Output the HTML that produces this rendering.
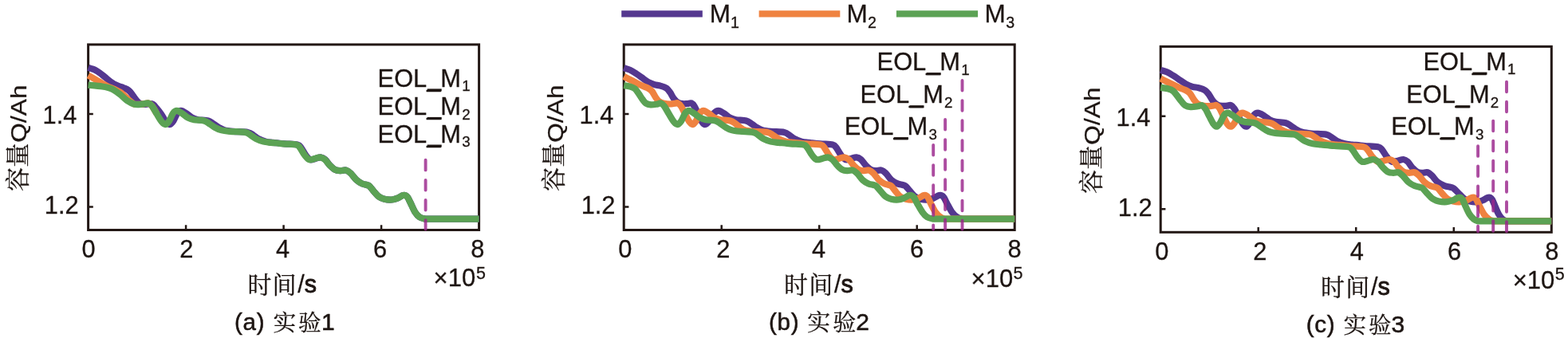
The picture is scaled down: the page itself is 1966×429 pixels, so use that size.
<!DOCTYPE html>
<html lang="zh">
<head>
<meta charset="utf-8">
<title>容量Q/Ah - 时间/s</title>
<style>
html,body{margin:0;padding:0;background:#fff;}
body{width:1966px;height:429px;overflow:hidden;font-family:"Liberation Sans",sans-serif;}
svg{display:block;will-change:transform;}
svg text{font-family:"Liberation Sans",sans-serif;fill:#1d1512;stroke:#1d1512;stroke-width:0.3px;}
svg text.cjk{font-family:"Liberation Serif","Noto Serif CJK SC",serif;}
</style>
</head>
<body>
<svg width="1966" height="429" viewBox="0 0 1966 429">
<rect width="1966" height="429" fill="#fff"/>
<g class="legend">
<line x1="779.2" y1="17.3" x2="880.8" y2="17.3" stroke="#54378f" stroke-width="8.2"/>
<line x1="951.6" y1="17.3" x2="1053.3" y2="17.3" stroke="#ef8240" stroke-width="8.2"/>
<line x1="1123.9" y1="17.3" x2="1226.1" y2="17.3" stroke="#5ba254" stroke-width="8.2"/>
<text x="889.8" y="27.6" font-size="31.5">M</text>
<text x="916" y="34.5" font-size="19.6">1</text>
<text x="1061.6" y="27.6" font-size="31.5">M</text>
<text x="1088" y="34.5" font-size="19.6">2</text>
<text x="1234.6" y="27.6" font-size="31.5">M</text>
<text x="1261.2" y="34.5" font-size="19.6">3</text>
</g>
<g class="panel">
<title>(a) 实验1</title>
<rect x="110.6" y="55.9" width="490" height="232.6" fill="none" stroke="#231815" stroke-width="3"/>
<path d="M233.1,288.5V282.2M355.6,288.5V282.2M478.1,288.5V282.2M110.6,259.4H116.8M110.6,143.1H116.8" stroke="#231815" stroke-width="2.5" fill="none"/>
<g fill="none" stroke-width="8.2" stroke-linejoin="round">
<path d="M110.6,84.8C111.4,85.1 114,85.8 115.6,86.4C117.2,87 118.7,87.5 120.2,88.3C121.7,89.1 123.2,90.1 124.7,91.2C126.2,92.3 127.7,93.5 129.2,94.7C130.7,95.9 132.3,97.2 133.8,98.5C135.3,99.8 136.8,101.2 138.3,102.3C139.8,103.4 141.1,104.3 142.9,105.3C144.7,106.2 146.9,107.2 148.9,108C150.9,108.8 153.2,109.5 155,110.2C156.8,110.9 158.1,111.3 159.5,112.1C160.9,112.9 162,113.8 163.3,115.2C164.6,116.6 165.7,118.6 167.1,120.5C168.5,122.4 170.2,124.9 171.7,126.5C173.2,128.1 174.4,129.2 176,130C177.6,130.8 179.2,131 181,131C182.8,131 185.2,130.2 187,130.2C188.8,130.2 190.4,130 192,131C193.6,132 194.8,134 196.5,136C198.2,138 199.9,140.1 201.9,142.9C203.9,145.8 206.5,150.9 208.4,153.1C210.3,155.3 211.6,156.3 213.1,156C214.7,155.7 216.2,153.5 217.7,151.2C219.2,148.8 220.9,143.9 222.4,141.9C223.9,139.9 225.1,138.9 227,138.9C228.9,138.9 231.3,140.7 233.6,142.2C235.9,143.7 238.5,146.4 241,147.7C243.5,149 245.2,149.6 248.5,150.2C251.8,150.8 257.8,150.6 261,151.5C264.2,152.4 265.5,154.1 267.8,155.5C270,156.9 272.3,158.8 274.6,160.1C276.8,161.4 278.3,162.3 281.3,163.1C284.3,163.9 287.7,164.3 292.6,164.8C297.5,165.3 306.5,165.1 310.6,165.9C314.8,166.7 315.2,168 317.4,169.4C319.7,170.8 321.6,172.7 324.2,174.1C326.9,175.5 330.2,176.8 333.3,177.6C336.3,178.4 338.4,178.4 342.4,178.8C346.4,179.2 352,179.9 357.1,180.3C362.1,180.8 369.5,180.7 372.9,181.5C376.3,182.3 375.7,182.9 377.4,185C379.1,187.1 381.2,191.8 383.1,194.3C385,196.8 386.6,199.3 388.7,200.1C390.8,200.9 393.2,199.5 395.5,199C397.7,198.5 400.2,197.1 402.2,197.3C404.3,197.5 406,198.5 407.8,200.1C409.7,201.7 411.4,205 413.4,207.1C415.5,209.2 417.9,211.7 420.2,212.9C422.5,214.1 424.9,214 427.2,214.1C429.5,214.2 432.1,213 434.2,213.6C436.3,214.2 437.9,215.6 440,217.6C442.1,219.6 444.7,223.7 447,225.8C449.3,227.9 451.9,229.4 454,230.4C456.1,231.4 458.3,231.5 459.9,232C461.4,232.5 461.8,232.1 463.3,233.5C464.8,234.9 467.2,238.3 469.1,240.5C471.1,242.7 472.9,245.1 475,246.7C477.1,248.2 479.3,249.2 482,249.8C484.7,250.4 488.6,250.7 491.3,250.5C494,250.3 496.4,249.3 498.3,248.6C500.2,247.9 501.3,246.9 502.5,246.3C503.7,245.7 504.5,245.3 505.5,245.1C506.5,244.9 507.6,244.8 508.5,245.2C509.4,245.6 510.1,246 511.2,247.6C512.2,249.2 513.3,251.5 514.8,254.6C516.3,257.7 518.5,263.1 520.4,266.1C522.3,269.1 524.1,271 526.2,272.4C528.3,273.8 532,274.3 533.2,274.7L600.6,274.7" stroke="#54378f"/>
<path d="M110.6,94.5C112.2,95.4 117.3,98.3 120.2,100C123.1,101.7 125.2,103.1 127.7,104.5C130.2,105.9 132.8,107.4 135.3,108.6C137.8,109.8 140.4,110.4 142.9,111.6C145.4,112.8 148.2,114 150.5,115.5C152.8,117 154.8,118.9 156.5,120.5C158.2,122.1 159.4,123.6 161,125C162.6,126.4 164.7,128.1 166,129C167.3,129.9 166.6,130.4 168.6,130.7C170.6,131 175.1,130.9 178,130.7C180.9,130.5 184.1,128.9 186.3,129.4C188.5,129.9 189.3,131.2 191,133.5C192.7,135.8 195.7,141.3 196.6,142.9" stroke="#ef8240"/>
<path d="M110.6,106.6C113.5,106.9 123.4,107.7 128.3,108.5C133.2,109.3 136.4,109.9 140,111.5C143.6,113.1 146.8,115.6 150,118C153.2,120.4 156.2,124 159.3,126.1C162.4,128.2 165.5,129.9 168.6,130.7C171.7,131.5 175.1,130.9 178,130.7C180.9,130.5 184.1,128.9 186.3,129.4C188.5,129.9 189.3,131.2 191,133.5C192.7,135.8 194.6,139.6 196.6,142.9C198.6,146.2 201.2,150.9 203.1,153.1C205,155.3 206.2,156.3 207.8,156C209.4,155.7 210.9,153.5 212.4,151.2C213.9,148.8 215.6,143.9 217.1,141.9C218.6,139.9 219.8,138.9 221.7,138.9C223.6,138.9 226,140.7 228.3,142.2C230.6,143.7 233.2,146.4 235.7,147.7C238.2,149 239.8,149.6 243.2,150.2C246.6,150.8 252.7,150.6 256,151.5C259.3,152.4 260.7,154.1 263,155.5C265.3,156.9 267.7,158.8 270,160.1C272.3,161.4 273.9,162.3 277,163.1C280.1,163.9 283.6,164.3 288.6,164.8C293.6,165.3 302.9,165.1 307.2,165.9C311.5,166.7 311.9,168 314.2,169.4C316.5,170.8 318.5,172.7 321.2,174.1C323.9,175.5 327.4,176.8 330.5,177.6C333.6,178.4 335.8,178.4 339.9,178.8C344,179.2 349.8,179.9 355,180.3C360.2,180.8 367.8,180.7 371.3,181.5C374.8,182.3 374.1,182.9 375.9,185C377.6,187.1 379.9,191.8 381.8,194.3C383.8,196.8 385.5,199.3 387.6,200.1C389.7,200.9 392.3,199.5 394.6,199C396.9,198.5 399.5,197.1 401.6,197.3C403.7,197.5 405.5,198.5 407.4,200.1C409.3,201.7 411.1,205 413.2,207.1C415.3,209.2 417.9,211.7 420.2,212.9C422.5,214.1 424.9,214 427.2,214.1C429.5,214.2 432.1,213 434.2,213.6C436.3,214.2 437.9,215.6 440,217.6C442.1,219.6 444.7,223.7 447,225.8C449.3,227.9 451.9,229.4 454,230.4C456.1,231.4 458.3,231.5 459.9,232C461.4,232.5 461.8,232.1 463.3,233.5C464.8,234.9 467.2,238.3 469.1,240.5C471.1,242.7 472.9,245.1 475,246.7C477.1,248.2 479.3,249.2 482,249.8C484.7,250.4 488.6,250.7 491.3,250.5C494,250.3 496.4,249.3 498.3,248.6C500.2,247.9 501.3,246.9 502.5,246.3C503.7,245.7 504.5,245.3 505.5,245.1C506.5,244.9 507.6,244.8 508.5,245.2C509.4,245.6 510.1,246 511.2,247.6C512.2,249.2 513.3,251.5 514.8,254.6C516.3,257.7 518.5,263.1 520.4,266.1C522.3,269.1 524.1,271 526.2,272.4C528.3,273.8 532,274.3 533.2,274.7L600.6,274.7" stroke="#5ba254"/>
</g>
<line x1="533.6" y1="200.8" x2="533.6" y2="287.5" stroke="#9a258c" stroke-width="3.9" stroke-dasharray="12.6 12.5" stroke-linecap="round" opacity="0.82"/>
<text x="473.6" y="108.6" font-size="30.8">EOL_M</text>
<rect x="535.7" y="111.4" width="18" height="3.1" fill="#1d1512"/>
<text x="579.2" y="114" font-size="18.8">1</text>
<text x="473.6" y="144.1" font-size="30.8">EOL_M</text>
<rect x="535.7" y="146.9" width="18" height="3.1" fill="#1d1512"/>
<text x="579.2" y="149.5" font-size="18.8">2</text>
<text x="473.6" y="178.7" font-size="30.8">EOL_M</text>
<rect x="535.7" y="181.5" width="18" height="3.1" fill="#1d1512"/>
<text x="579.2" y="184.1" font-size="18.8">3</text>
<text x="53.6" y="154.6" font-size="30.8">1.4</text>
<text x="55.8" y="267.8" font-size="30.8">1.2</text>
<text x="111" y="323" font-size="30.8" text-anchor="middle">0</text>
<text x="233.7" y="323" font-size="30.8" text-anchor="middle">2</text>
<text x="354.5" y="323" font-size="30.8" text-anchor="middle">4</text>
<text x="476.5" y="323" font-size="30.8" text-anchor="middle">6</text>
<text x="598.7" y="323" font-size="30.8" text-anchor="middle">8</text>
<text x="543.6" y="359.3" font-size="31">×10</text>
<text x="597" y="349.5" font-size="21.5">5</text>
<text class="cjk" transform="translate(32.9 239.9) rotate(-90)" font-size="30.2">容量</text>
<text transform="translate(33.3 178.7) rotate(-90) scale(1 0.9)" font-size="31.7">Q/Ah</text>
<text class="cjk" x="310.4" y="367.7" font-size="30" letter-spacing="1.2">时间</text>
<text x="373.3" y="367" font-size="30.5" style="stroke-width:0.3px">/<tspan style="stroke-width:0.9px">s</tspan></text>
<text x="294.1" y="413.7" font-size="29.5" letter-spacing="0.7" style="stroke-width:0.55px">(a)</text>
<text class="cjk" x="342.6" y="414.5" font-size="28.7" letter-spacing="2.8">实验</text>
<text x="403" y="413.7" font-size="30" style="stroke-width:0.55px">1</text>
</g>
<g class="panel">
<title>(b) 实验2</title>
<rect x="782.2" y="55.9" width="490" height="232.6" fill="none" stroke="#231815" stroke-width="3"/>
<path d="M904.7,288.5V282.2M1027.2,288.5V282.2M1149.7,288.5V282.2M782.2,259.4H788.4M782.2,143.1H788.4" stroke="#231815" stroke-width="2.5" fill="none"/>
<g fill="none" stroke-width="8.2" stroke-linejoin="round">
<path d="M782.2,85.2C783.5,85.7 787.6,86.7 790.2,87.9C792.8,89.1 795.2,90.8 797.7,92.4C800.2,94 802.8,95.9 805.3,97.7C807.8,99.5 810.4,101.6 812.9,103C815.4,104.4 818,105.3 820.5,106.1C823,106.9 825.5,106.8 828,107.6C830.5,108.3 833.6,109.2 835.6,110.6C837.6,112 838.7,113.8 840.2,115.9C841.7,118.1 843.1,121.4 844.7,123.5C846.3,125.6 848.1,127.5 850,128.6C851.9,129.7 854,130 856,130.2C858,130.4 860.2,130.1 862,130C863.8,129.9 865.4,128.8 866.9,129.4C868.4,130 869.3,131.2 870.7,133.5C872.1,135.8 873.6,139.6 875.2,142.9C876.8,146.2 878.9,150.9 880.4,153.1C881.9,155.3 882.7,156.3 884.2,156C885.8,155.7 887.9,153.5 889.7,151.2C891.6,148.8 893.5,143.9 895.3,141.9C897.2,139.9 898.7,138.9 900.8,138.9C902.9,138.9 905.4,140.7 907.8,142.2C910.2,143.7 912.8,146.4 915.3,147.7C917.8,149 919.4,149.6 922.8,150.2C926.2,150.8 932.3,150.6 935.6,151.5C938.9,152.4 940.3,154.1 942.6,155.5C944.9,156.9 947.1,158.8 949.2,160.1C951.4,161.4 952.8,162.3 955.6,163.1C958.5,163.9 961.6,164.3 966.2,164.8C970.8,165.3 979.3,165.1 983.2,165.9C987.1,166.7 987.5,168 989.6,169.4C991.8,170.8 993.7,172.7 996.2,174.1C998.8,175.5 1002.1,176.8 1005.1,177.6C1008,178.4 1010.1,178.4 1014,178.8C1017.9,179.2 1023.4,179.9 1028.4,180.3C1033.4,180.8 1040.6,180.7 1043.9,181.5C1047.3,182.3 1046.7,182.9 1048.4,185C1050.2,187.1 1052.4,191.8 1054.3,194.3C1056.2,196.8 1057.9,199.3 1060,200.1C1062.1,200.9 1064.6,199.5 1066.9,199C1069.2,198.5 1071.7,197.1 1073.8,197.3C1076,197.5 1077.7,198.5 1079.6,200.1C1081.5,201.7 1083.2,205 1085.3,207.1C1087.4,209.2 1089.8,211.7 1092,212.9C1094.2,214.1 1096.4,214 1098.7,214.1C1100.9,214.2 1103.3,213 1105.3,213.6C1107.4,214.2 1108.8,215.6 1110.9,217.6C1112.9,219.6 1115.3,223.7 1117.7,225.8C1120.1,227.9 1123,229.4 1125.4,230.4C1127.7,231.4 1130.1,231.5 1131.8,232C1133.5,232.5 1133.9,232.1 1135.5,233.5C1137.2,234.9 1139.7,238.3 1141.7,240.5C1143.7,242.7 1145.4,245.1 1147.5,246.7C1149.6,248.2 1151.7,249.2 1154.4,249.8C1157.1,250.4 1160.9,250.7 1163.6,250.5C1166.3,250.3 1168.6,249.3 1170.5,248.6C1172.3,247.9 1173.4,246.9 1174.6,246.3C1175.8,245.7 1176.6,245.3 1177.6,245.1C1178.6,244.9 1179.7,244.8 1180.7,245.2C1181.6,245.6 1182.4,246 1183.4,247.6C1184.5,249.2 1185.4,251.5 1187.1,254.6C1188.8,257.7 1191.4,263.1 1193.6,266.1C1195.8,269.1 1198.1,271 1200.2,272.4C1202.4,273.8 1205.5,274.3 1206.5,274.7L1272.2,274.7" stroke="#54378f"/>
<path d="M782.2,95.8C783.5,96.5 787.6,98.7 790.2,100C792.8,101.3 795.2,102.5 797.7,103.8C800.2,105.1 802.8,106.4 805.3,107.6C807.8,108.8 810.9,109.7 812.9,110.8C814.9,111.9 815.9,112.5 817.4,114.4C818.9,116.3 820.5,119.8 822,122C823.5,124.2 824.7,126 826.5,127.3C828.3,128.6 830.4,129.2 832.6,129.7C834.9,130.2 837.8,130.5 840,130.5C842.2,130.5 844.4,130 846,129.8C847.6,129.6 848.6,128.8 849.9,129.4C851.2,130 852.5,131.2 854.1,133.5C855.6,135.8 857.2,139.6 859,142.9C860.7,146.2 863,150.9 864.6,153.1C866.3,155.3 867.4,156.3 868.8,156C870.1,155.7 871.5,153.5 873,151.2C874.4,148.8 876.1,143.9 877.6,141.9C879.1,139.9 880.3,138.9 882.1,138.9C883.9,138.9 886.3,140.7 888.6,142.2C890.9,143.7 893.4,146.4 895.8,147.7C898.3,149 899.9,149.6 903.2,150.2C906.5,150.8 912.5,150.6 915.8,151.5C919,152.4 920.5,154.1 922.6,155.5C924.8,156.9 926.6,158.8 928.5,160.1C930.4,161.4 931.1,162.3 933.8,163.1C936.4,163.9 939.9,164.3 944.7,164.8C949.5,165.3 958.3,165.1 962.4,165.9C966.5,166.7 966.8,168 969.1,169.4C971.4,170.8 973.4,172.7 976.1,174.1C978.9,175.5 982.5,176.8 985.6,177.6C988.8,178.4 991,178.4 995.3,178.8C999.5,179.2 1005.4,179.9 1011,180.3C1016.6,180.8 1025.1,180.7 1028.9,181.5C1032.6,182.3 1031.7,182.9 1033.4,185C1035.2,187.1 1037.3,191.8 1039.2,194.3C1041.1,196.8 1042.8,199.3 1044.9,200.1C1047,200.9 1049.5,199.5 1051.8,199C1054.1,198.5 1056.6,197.1 1058.7,197.3C1060.8,197.5 1062.5,198.5 1064.4,200.1C1066.3,201.7 1068.1,205 1070.1,207.1C1072.2,209.2 1074.5,211.7 1076.7,212.9C1078.9,214.1 1081.1,214 1083.3,214.1C1085.5,214.2 1087.9,213 1089.9,213.6C1092,214.2 1093.4,215.6 1095.4,217.6C1097.4,219.6 1099.8,223.7 1102,225.8C1104.3,227.9 1106.7,229.4 1108.8,230.4C1110.8,231.4 1112.9,231.5 1114.4,232C1115.9,232.5 1116.2,232.1 1117.7,233.5C1119.2,234.9 1121.4,238.3 1123.3,240.5C1125.1,242.7 1126.9,245.1 1129,246.7C1131.1,248.2 1133.1,249.2 1135.8,249.8C1138.4,250.4 1142.2,250.7 1144.8,250.5C1147.4,250.3 1149.8,249.3 1151.6,248.6C1153.4,247.9 1154.5,246.9 1155.7,246.3C1156.8,245.7 1157.6,245.3 1158.5,245.1C1159.4,244.9 1160.3,244.8 1161.1,245.2C1162,245.6 1162.6,246 1163.5,247.6C1164.4,249.2 1165.2,251.5 1166.7,254.6C1168.3,257.7 1170.8,263.1 1172.9,266.1C1175,269.1 1177.3,271 1179.3,272.4C1181.3,273.8 1183.9,274.3 1184.9,274.7L1272.2,274.7" stroke="#ef8240"/>
<path d="M782.2,107.1C783.5,107.3 787.9,107.9 790.2,108.6C792.5,109.3 794.4,109.9 796.2,111.4C798,112.9 799.3,115.3 800.8,117.4C802.3,119.5 803.8,122.2 805.3,124.2C806.8,126.2 808,128.3 809.8,129.5C811.6,130.7 813.5,131.2 815.9,131.4C818.3,131.6 821.9,130.9 824,130.6C826.1,130.3 826.9,128.9 828.4,129.4C829.9,129.9 831.4,131.2 833.1,133.5C834.8,135.8 836.7,139.6 838.7,142.9C840.7,146.2 843.3,150.9 845.2,153.1C847.1,155.3 848.4,156.3 849.9,156C851.5,155.7 853,153.5 854.5,151.2C856,148.8 857.7,143.9 859.2,141.9C860.8,139.9 861.9,138.9 863.8,138.9C865.7,138.9 868.1,140.7 870.4,142.2C872.7,143.7 875.4,146.4 877.8,147.7C880.2,149 881.7,149.6 885,150.2C888.2,150.8 894,150.6 897.2,151.5C900.3,152.4 901.6,154.1 903.9,155.5C906.1,156.9 908.3,158.8 910.6,160.1C912.8,161.4 914.3,162.3 917.2,163.1C920,163.9 923.1,164.3 927.6,164.8C932.1,165.3 940.5,165.1 944.3,165.9C948.2,166.7 948.5,168 950.6,169.4C952.8,170.8 954.6,172.7 957.3,174.1C960,175.5 963.5,176.8 966.6,177.6C969.8,178.4 972,178.4 976,178.8C980.1,179.2 985.9,179.9 991.2,180.3C996.4,180.8 1004,180.7 1007.5,181.5C1011,182.3 1010.4,182.9 1012.1,185C1013.9,187.1 1016.1,191.8 1018,194.3C1020,196.8 1021.7,199.3 1023.8,200.1C1026,200.9 1028.5,199.5 1030.9,199C1033.2,198.5 1035.7,197.1 1037.9,197.3C1040,197.5 1041.7,198.5 1043.7,200.1C1045.6,201.7 1047.4,205 1049.5,207.1C1051.6,209.2 1053.9,211.7 1056.1,212.9C1058.4,214.1 1060.6,214 1062.8,214.1C1065,214.2 1067.4,213 1069.4,213.6C1071.4,214.2 1072.9,215.6 1074.9,217.6C1076.9,219.6 1079.3,223.7 1081.7,225.8C1084,227.9 1086.7,229.4 1089,230.4C1091.3,231.4 1093.6,231.5 1095.2,232C1096.8,232.5 1097.1,232.1 1098.7,233.5C1100.4,234.9 1102.8,238.3 1104.8,240.5C1106.8,242.7 1108.5,245.1 1110.6,246.7C1112.7,248.2 1114.8,249.2 1117.4,249.8C1120,250.4 1123.7,250.7 1126.4,250.5C1129,250.3 1131.3,249.3 1133.1,248.6C1134.9,247.9 1136,246.9 1137.2,246.3C1138.3,245.7 1139.1,245.3 1140.1,245.1C1141.1,244.9 1142.2,244.8 1143.2,245.2C1144.2,245.6 1144.9,246 1146,247.6C1147.1,249.2 1148,251.5 1149.7,254.6C1151.5,257.7 1154.3,263.1 1156.5,266.1C1158.6,269.1 1160.4,271 1162.6,272.4C1164.9,273.8 1168.8,274.3 1170.1,274.7L1272.2,274.7" stroke="#5ba254"/>
</g>
<line x1="1170.2" y1="182" x2="1170.2" y2="287.5" stroke="#9a258c" stroke-width="3.9" stroke-dasharray="12.6 12.5" stroke-linecap="round" opacity="0.82"/>
<line x1="1185.1" y1="150" x2="1185.1" y2="287.5" stroke="#9a258c" stroke-width="3.9" stroke-dasharray="12.6 12.5" stroke-linecap="round" opacity="0.82"/>
<line x1="1206.5" y1="101" x2="1206.5" y2="287.5" stroke="#9a258c" stroke-width="3.9" stroke-dasharray="12.6 12.5" stroke-linecap="round" opacity="0.82"/>
<text x="1099.6" y="88.3" font-size="30.8">EOL_M</text>
<rect x="1161.7" y="91.1" width="18" height="3.1" fill="#1d1512"/>
<text x="1205.2" y="93.7" font-size="18.8">1</text>
<text x="1078.4" y="129.4" font-size="30.8">EOL_M</text>
<rect x="1140.5" y="132.2" width="18" height="3.1" fill="#1d1512"/>
<text x="1184" y="134.8" font-size="18.8">2</text>
<text x="1058.8" y="169.3" font-size="30.8">EOL_M</text>
<rect x="1120.9" y="172.1" width="18" height="3.1" fill="#1d1512"/>
<text x="1164.4" y="174.7" font-size="18.8">3</text>
<text x="726.5" y="154.6" font-size="30.8">1.4</text>
<text x="728.7" y="267.8" font-size="30.8">1.2</text>
<text x="783.7" y="323" font-size="30.8" text-anchor="middle">0</text>
<text x="906.8" y="323" font-size="30.8" text-anchor="middle">2</text>
<text x="1026.6" y="323" font-size="30.8" text-anchor="middle">4</text>
<text x="1149.5" y="323" font-size="30.8" text-anchor="middle">6</text>
<text x="1272" y="323" font-size="30.8" text-anchor="middle">8</text>
<text x="1217.6" y="360.2" font-size="31">×10</text>
<text x="1270.6" y="350" font-size="21.5">5</text>
<text class="cjk" transform="translate(705.4 239.9) rotate(-90)" font-size="30.2">容量</text>
<text transform="translate(705.8 178.7) rotate(-90) scale(1 0.9)" font-size="31.7">Q/Ah</text>
<text class="cjk" x="983.1" y="367.7" font-size="30" letter-spacing="1.2">时间</text>
<text x="1046" y="367" font-size="30.5" style="stroke-width:0.3px">/<tspan style="stroke-width:0.9px">s</tspan></text>
<text x="964.1" y="414" font-size="29.5" letter-spacing="0.7" style="stroke-width:0.55px">(b)</text>
<text class="cjk" x="1012.1" y="414.5" font-size="29.1" letter-spacing="3">实验</text>
<text x="1073.3" y="414" font-size="30" style="stroke-width:0.55px">2</text>
</g>
<g class="panel">
<title>(c) 实验3</title>
<rect x="1455.2" y="58.4" width="490.1" height="232.9" fill="none" stroke="#231815" stroke-width="3"/>
<path d="M1577.7,291.3V285M1700.2,291.3V285M1822.8,291.3V285M1455.2,262.2H1461.4M1455.2,145.7H1461.4" stroke="#231815" stroke-width="2.5" fill="none"/>
<g fill="none" stroke-width="8.2" stroke-linejoin="round">
<path d="M1455.2,87.9C1456.6,88.4 1460.9,89.4 1463.6,90.6C1466.3,91.8 1468.8,93.5 1471.4,95.1C1474,96.7 1476.7,98.6 1479.3,100.4C1482,102.2 1484.6,104.3 1487.3,105.7C1489.9,107.1 1492.6,108 1495.2,108.8C1497.9,109.6 1500.4,109.5 1503.1,110.3C1505.7,111 1508.9,111.9 1511,113.3C1513.1,114.7 1514.2,116.5 1515.8,118.6C1517.4,120.8 1518.8,124.1 1520.5,126.2C1522.2,128.3 1524.1,130.2 1526.1,131.3C1528,132.4 1530.2,132.7 1532.3,132.9C1534.4,133.1 1536.7,132.8 1538.6,132.7C1540.4,132.6 1541.9,131.5 1543.4,132.1C1544.9,132.7 1546.1,133.9 1547.6,136.2C1549.2,138.4 1550.8,142.3 1552.6,145.6C1554.4,148.9 1556.8,153.6 1558.5,155.8C1560.2,158 1561.5,159 1562.9,158.7C1564.4,158.4 1565.7,156.2 1567.2,153.9C1568.7,151.5 1570.2,146.6 1571.9,144.6C1573.6,142.6 1575,141.6 1577.1,141.6C1579.2,141.6 1582.1,143.4 1584.6,144.9C1587.1,146.4 1589.7,149.1 1592.2,150.4C1594.7,151.7 1596.3,152.3 1599.6,152.9C1603,153.5 1609,153.3 1612.2,154.2C1615.5,155.1 1616.8,156.8 1619.1,158.2C1621.4,159.6 1623.7,161.5 1626,162.8C1628.3,164.1 1629.8,165 1632.9,165.8C1635.9,166.6 1639.3,167 1644.2,167.5C1649.2,168 1658.3,167.8 1662.5,168.6C1666.7,169.4 1667,170.7 1669.3,172.1C1671.7,173.5 1673.6,175.4 1676.4,176.8C1679.1,178.2 1682.7,179.5 1685.9,180.3C1689.1,181.1 1691.3,181.1 1695.5,181.5C1699.6,181.9 1705.5,182.6 1710.9,183C1716.3,183.4 1724.2,183.4 1727.8,184.2C1731.5,185 1730.9,185.6 1732.8,187.7C1734.7,189.8 1737,194.5 1739.1,197C1741.2,199.5 1743,202 1745.3,202.8C1747.5,203.6 1750.1,202.2 1752.5,201.7C1754.9,201.2 1757.6,199.8 1759.7,200C1761.8,200.2 1763.2,201.2 1765,202.8C1766.8,204.4 1768.4,207.7 1770.3,209.8C1772.3,211.9 1774.7,214.4 1776.9,215.6C1779.1,216.8 1781.2,216.7 1783.4,216.8C1785.6,216.9 1788,215.7 1790,216.3C1792,216.9 1793.3,218.3 1795.4,220.3C1797.5,222.3 1800,226.4 1802.6,228.5C1805.3,230.6 1808.6,232.1 1811.2,233.1C1813.8,234.1 1816.5,234.2 1818.4,234.7C1820.3,235.2 1820.7,234.8 1822.6,236.2C1824.4,237.6 1827.4,241 1829.6,243.2C1831.9,245.4 1833.8,247.8 1836,249.4C1838.3,250.9 1840.3,251.9 1842.9,252.5C1845.6,253.1 1849.4,253.4 1852.1,253.2C1854.8,253 1857.2,252 1859,251.3C1860.8,250.6 1862,249.6 1863.1,249C1864.3,248.4 1865.1,248 1866,247.8C1866.9,247.6 1867.7,247.5 1868.6,247.9C1869.4,248.3 1870,248.7 1870.9,250.3C1871.8,251.9 1872.6,254.2 1874,257.3C1875.3,260.4 1877.4,265.8 1879.1,268.8C1880.8,271.8 1882.5,273.7 1884.2,275.1C1885.9,276.5 1888.3,277 1889.1,277.4L1945.3,277.4" stroke="#54378f"/>
<path d="M1455.2,98.5C1456.6,99.2 1460.9,101.4 1463.6,102.7C1466.3,104 1468.8,105.2 1471.4,106.5C1474,107.8 1476.7,109.1 1479.3,110.3C1482,111.5 1485.2,112.4 1487.3,113.5C1489.4,114.6 1490.4,115.2 1492,117.1C1493.6,119 1495.2,122.6 1496.8,124.7C1498.4,126.8 1499.6,128.7 1501.5,130C1503.3,131.3 1505.5,131.9 1507.9,132.4C1510.2,132.9 1513.3,133.2 1515.6,133.2C1517.9,133.2 1520.2,132.7 1521.9,132.5C1523.5,132.3 1524.2,131.5 1525.4,132.1C1526.6,132.7 1527.9,133.9 1529.3,136.2C1530.7,138.4 1532.2,142.3 1533.8,145.6C1535.4,148.9 1537.5,153.6 1539.1,155.8C1540.7,158 1542,159 1543.5,158.7C1544.9,158.4 1546.4,156.2 1548,153.9C1549.6,151.5 1551.4,146.6 1553.1,144.6C1554.8,142.6 1556,141.6 1558.1,141.6C1560.1,141.6 1562.8,143.4 1565.2,144.9C1567.7,146.4 1570.3,149.1 1572.8,150.4C1575.3,151.7 1576.9,152.3 1580.3,152.9C1583.7,153.5 1589.8,153.3 1593.1,154.2C1596.4,155.1 1597.7,156.8 1600,158.2C1602.2,159.6 1604.4,161.5 1606.6,162.8C1608.8,164.1 1610.3,165 1613.3,165.8C1616.2,166.6 1619.5,167 1624.3,167.5C1629.1,168 1637.9,167.8 1641.9,168.6C1646,169.4 1646.3,170.7 1648.6,172.1C1650.9,173.5 1652.8,175.4 1655.7,176.8C1658.5,178.2 1662.3,179.5 1665.7,180.3C1669,181.1 1671.4,181.1 1675.8,181.5C1680.1,181.9 1686.3,182.6 1692,183C1697.6,183.4 1705.7,183.4 1709.5,184.2C1713.2,185 1712.6,185.6 1714.5,187.7C1716.4,189.8 1718.8,194.5 1721,197C1723.1,199.5 1725,202 1727.3,202.8C1729.7,203.6 1732.5,202.2 1735,201.7C1737.6,201.2 1740.5,199.8 1742.7,200C1744.9,200.2 1746.2,201.2 1748,202.8C1749.7,204.4 1751.3,207.7 1753.3,209.8C1755.3,211.9 1757.8,214.4 1760.1,215.6C1762.3,216.8 1764.6,216.7 1766.9,216.8C1769.1,216.9 1771.6,215.7 1773.6,216.3C1775.7,216.9 1777.2,218.3 1779.3,220.3C1781.4,222.3 1783.8,226.4 1786.1,228.5C1788.5,230.6 1791.1,232.1 1793.3,233.1C1795.5,234.1 1797.7,234.2 1799.3,234.7C1800.9,235.2 1801.2,234.8 1802.8,236.2C1804.4,237.6 1806.7,241 1808.7,243.2C1810.7,245.4 1812.6,247.8 1814.8,249.4C1817,250.9 1819.2,251.9 1822,252.5C1824.8,253.1 1828.7,253.4 1831.5,253.2C1834.3,253 1836.8,252 1838.7,251.3C1840.6,250.6 1841.8,249.6 1843,249C1844.3,248.4 1845.1,248 1846,247.8C1847,247.6 1847.9,247.5 1848.7,247.9C1849.6,248.3 1850.2,248.7 1851.2,250.3C1852.2,251.9 1852.9,254.2 1854.5,257.3C1856.1,260.4 1858.7,265.8 1860.7,268.8C1862.8,271.8 1865,273.7 1867,275.1C1869,276.5 1872,277 1873,277.4L1945.3,277.4" stroke="#ef8240"/>
<path d="M1455.2,109.8C1456.7,110 1461.5,110.6 1464.2,111.3C1466.8,112 1468.9,112.6 1470.9,114.1C1472.9,115.6 1474.3,118 1476,120.1C1477.7,122.2 1479.4,124.9 1481.1,126.9C1482.8,128.9 1484.1,131 1486.1,132.2C1488.1,133.4 1490.3,133.9 1492.9,134.1C1495.6,134.3 1499.7,133.6 1502,133.3C1504.3,133 1505.4,131.6 1506.9,132.1C1508.4,132.6 1509.6,133.9 1511.1,136.2C1512.7,138.4 1514.4,142.3 1516.1,145.6C1517.9,148.9 1520.1,153.6 1521.7,155.8C1523.2,158 1524,159 1525.4,158.7C1526.8,158.4 1528.5,156.2 1530,153.9C1531.5,151.5 1533.2,146.6 1534.7,144.6C1536.2,142.6 1537.4,141.6 1539.3,141.6C1541.2,141.6 1543.6,143.4 1545.9,144.9C1548.2,146.4 1550.8,149.1 1553.3,150.4C1555.8,151.7 1557.3,152.3 1560.6,152.9C1563.9,153.5 1569.8,153.3 1573,154.2C1576.2,155.1 1577.6,156.8 1579.8,158.2C1582.1,159.6 1584.3,161.5 1586.6,162.8C1588.8,164.1 1590.3,165 1593.3,165.8C1596.3,166.6 1599.6,167 1604.4,167.5C1609.2,168 1618.2,167.8 1622.3,168.6C1626.4,169.4 1626.7,170.7 1629,172.1C1631.3,173.5 1633.2,175.4 1636,176.8C1638.9,178.2 1642.8,179.5 1646.2,180.3C1649.5,181.1 1651.9,181.1 1656.4,181.5C1660.8,181.9 1667.1,182.6 1672.8,183C1678.5,183.4 1686.8,183.4 1690.6,184.2C1694.4,185 1693.7,185.6 1695.6,187.7C1697.5,189.8 1699.9,194.5 1701.9,197C1704,199.5 1705.6,202 1707.8,202.8C1710,203.6 1712.5,202.2 1714.9,201.7C1717.3,201.2 1719.9,199.8 1722,200C1724.2,200.2 1725.9,201.2 1727.9,202.8C1729.9,204.4 1731.7,207.7 1733.8,209.8C1735.9,211.9 1738.2,214.4 1740.3,215.6C1742.5,216.8 1744.7,216.7 1746.8,216.8C1749,216.9 1751.3,215.7 1753.3,216.3C1755.3,216.9 1756.6,218.3 1758.7,220.3C1760.8,222.3 1763.6,226.4 1766,228.5C1768.5,230.6 1771.3,232.1 1773.6,233.1C1776,234.1 1778.3,234.2 1780,234.7C1781.7,235.2 1782,234.8 1783.7,236.2C1785.4,237.6 1787.9,241 1790,243.2C1792.1,245.4 1794,247.8 1796.4,249.4C1798.7,250.9 1801,251.9 1803.9,252.5C1806.8,253.1 1811,253.4 1813.9,253.2C1816.8,253 1819.4,252 1821.4,251.3C1823.4,250.6 1824.7,249.6 1825.9,249C1827.2,248.4 1828,248 1829,247.8C1829.9,247.6 1830.7,247.5 1831.5,247.9C1832.3,248.3 1832.9,248.7 1833.8,250.3C1834.7,251.9 1835.5,254.2 1836.9,257.3C1838.3,260.4 1840.6,265.8 1842.5,268.8C1844.4,271.8 1846.3,273.7 1848.2,275.1C1850,276.5 1852.5,277 1853.4,277.4L1945.3,277.4" stroke="#5ba254"/>
</g>
<line x1="1853.1" y1="183.3" x2="1853.1" y2="290.3" stroke="#9a258c" stroke-width="3.9" stroke-dasharray="12.6 12.5" stroke-linecap="round" opacity="0.82"/>
<line x1="1872.2" y1="151.6" x2="1872.2" y2="290.3" stroke="#9a258c" stroke-width="3.9" stroke-dasharray="12.6 12.5" stroke-linecap="round" opacity="0.82"/>
<line x1="1889" y1="102.6" x2="1889" y2="290.3" stroke="#9a258c" stroke-width="3.9" stroke-dasharray="12.6 12.5" stroke-linecap="round" opacity="0.82"/>
<text x="1784.4" y="87.8" font-size="30.8">EOL_M</text>
<rect x="1846.5" y="90.6" width="18" height="3.1" fill="#1d1512"/>
<text x="1890" y="93.2" font-size="18.8">1</text>
<text x="1763.2" y="129.4" font-size="30.8">EOL_M</text>
<rect x="1825.3" y="132.2" width="18" height="3.1" fill="#1d1512"/>
<text x="1868.8" y="134.8" font-size="18.8">2</text>
<text x="1744.3" y="169.3" font-size="30.8">EOL_M</text>
<rect x="1806.4" y="172.1" width="18" height="3.1" fill="#1d1512"/>
<text x="1849.9" y="174.7" font-size="18.8">3</text>
<text x="1399.6" y="157.7" font-size="30.8">1.4</text>
<text x="1401.8" y="270.8" font-size="30.8">1.2</text>
<text x="1456.7" y="326" font-size="30.8" text-anchor="middle">0</text>
<text x="1579.8" y="326" font-size="30.8" text-anchor="middle">2</text>
<text x="1701.2" y="326" font-size="30.8" text-anchor="middle">4</text>
<text x="1823.5" y="326" font-size="30.8" text-anchor="middle">6</text>
<text x="1945.8" y="326" font-size="30.8" text-anchor="middle">8</text>
<text x="1896.7" y="362" font-size="31">×10</text>
<text x="1949.7" y="351.3" font-size="21.5">5</text>
<text class="cjk" transform="translate(1378.9 242.9) rotate(-90)" font-size="30.2">容量</text>
<text transform="translate(1379.3 181.7) rotate(-90) scale(1 0.9)" font-size="31.7">Q/Ah</text>
<text class="cjk" x="1656" y="370.9" font-size="30" letter-spacing="1.2">时间</text>
<text x="1718.9" y="370.2" font-size="30.5" style="stroke-width:0.3px">/<tspan style="stroke-width:0.9px">s</tspan></text>
<text x="1637.7" y="416.5" font-size="29.5" letter-spacing="0.7" style="stroke-width:0.55px">(c)</text>
<text class="cjk" x="1684.4" y="417.7" font-size="28.5" letter-spacing="3">实验</text>
<text x="1744.4" y="416.5" font-size="30" style="stroke-width:0.55px">3</text>
</g>
</svg>
</body>
</html>
